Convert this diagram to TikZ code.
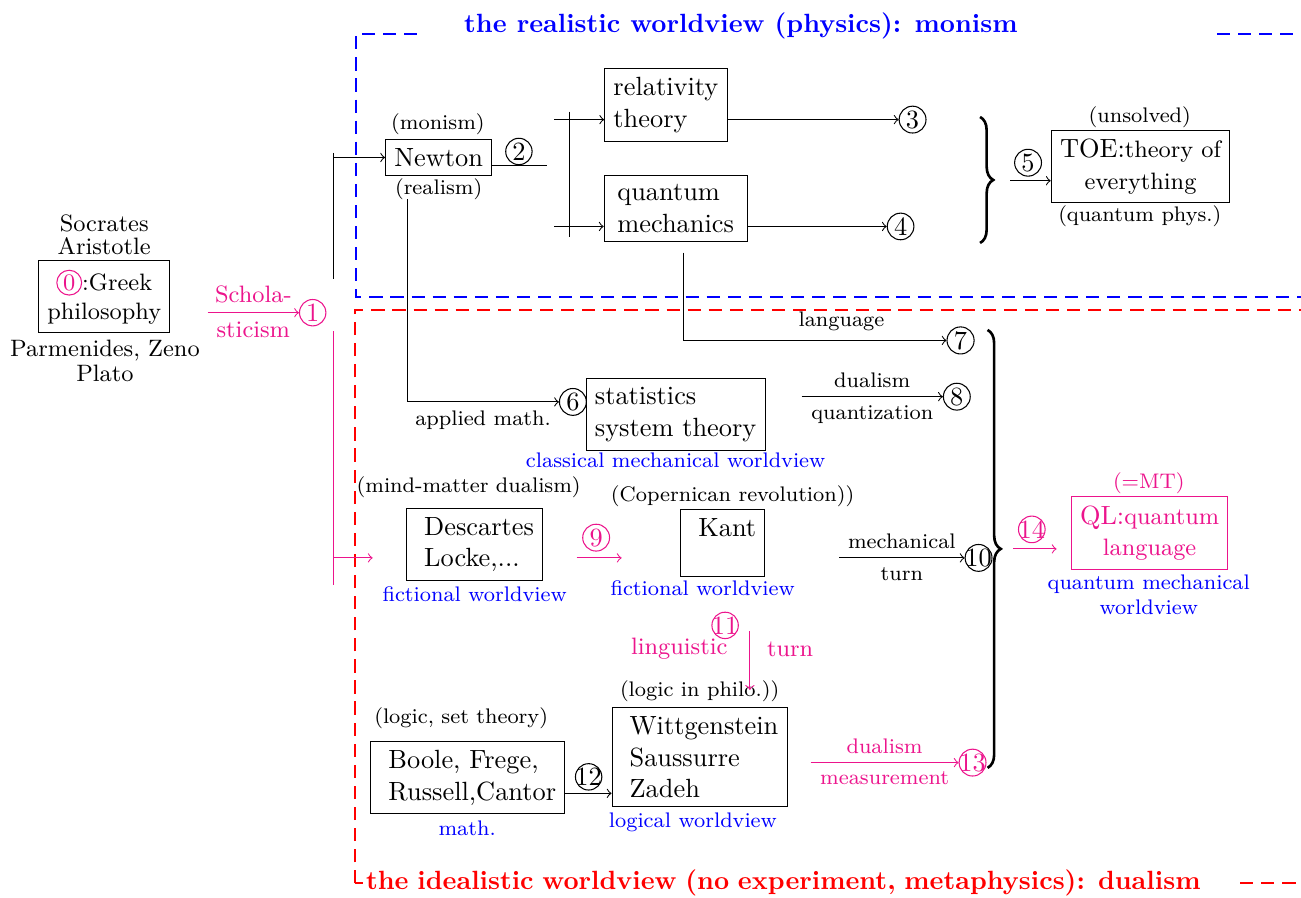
\documentclass[tikz,border=0pt]{standalone}
\usepackage{amsmath}
\usepackage{amssymb}
\usepackage{tikz}
\usetikzlibrary{arrows, decorations.pathreplacing}

\definecolor{qlpink}{RGB}{236,20,140}

\begin{document}
\begin{tikzpicture}

	\tikzstyle{box_node}=[rectangle, draw=black, align=left, inner sep=3.33pt]
	\tikzstyle{ql_node}=[rectangle, draw=qlpink, text=qlpink, align=center]
	\tikzstyle{num_node}=[circle, draw=black, inner sep=0.6pt]
	\tikzstyle{pink_num}=[circle, draw=qlpink, text=qlpink, inner sep=0.6pt]
	\tikzstyle{note_node}=[font=\footnotesize]
	\tikzstyle{view_node}=[font=\footnotesize, text=blue, align=center]
	\tikzstyle{edge_label}=[font=\footnotesize]
	\tikzstyle{pink_arrow}=[->, draw=qlpink, text=qlpink]
	\tikzstyle{realistic_frame}=[color=blue, line width=0.6pt, dash pattern=on 5pt off 3pt]
	\tikzstyle{idealistic_frame}=[color=red, thick, dash pattern=on 5pt off 3pt]
	\tikzstyle{big_brace}=[decorate, decoration={brace, amplitude=5pt}, line width=1pt]

	\useasboundingbox (0, 0) rectangle (17.35, 11.97);

	% Frames of the two worldviews
	\draw[realistic_frame] (5.56, 11.52) -- (4.75, 11.52) -- (4.75, 8.007) -- (17.35, 8.007);
	\draw[realistic_frame] (16.23, 11.52) -- (17.35, 11.52);
	\draw[idealistic_frame] (4.73, 0.19) -- (4.73, 7.84) -- (17.35, 7.84);
	\draw[idealistic_frame] (4.73, 0.19) -- (17.35, 0.19);
	\node[text=blue, font=\bfseries] at (9.88, 11.63) (realistic_title) {the realistic worldview (physics): monism};
	\node[text=red, font=\bfseries, fill=white, inner sep=1pt, anchor=west, text width=11.55cm, align=left] at (4.84, 0.19) (idealistic_title) {the idealistic worldview (no experiment, metaphysics): dualism};

	%Main nodes
	\node[align=center, font=\small] at (1.39, 8.84) (socrates) {Socrates\\[-2.5pt]Aristotle};
	\node[box_node, align=center, font=\small] at (1.39, 8.01) (greek) {\tikz[baseline=(zero.base)] \node[circle, draw=qlpink, text=qlpink, inner sep=0.6pt] (zero) {0};:Greek\\philosophy};
	\node[align=center, font=\small] at (1.40, 7.16) (parmenides) {Parmenides, Zeno\\[-1.5pt]Plato};
	\node[pink_num] at (4.17, 7.80) (n1) {1};

	\node[box_node] at (5.85, 9.87) (newton) {Newton};
	\node[note_node] at (5.84, 10.31) (monism) {(monism)};
	\node[note_node] at (5.85, 9.44) (realism) {(realism)};
	\node[num_node] at (6.92, 9.95) (n2) {2};
	\node[box_node] at (8.88, 10.57) (relativity) {relativity\\theory};
	\node[box_node, inner xsep=5pt] at (9.01, 9.19) (quantum) {quantum\\mechanics};
	\node[num_node] at (12.17, 10.375) (n3) {3};
	\node[num_node] at (12.01, 8.95) (n4) {4};
	\node[num_node] at (13.71, 9.80) (n5) {5};
	\node[box_node, align=center] at (15.21, 9.75) (toe) {TOE:{\small theory of}\\{\small everything}};
	\node[note_node] at (15.20, 10.41) (unsolved) {(unsolved)};
	\node[note_node] at (15.20, 9.08) (quantum_phys) {(quantum phys.)};

	\node[num_node] at (7.64, 6.61) (n6) {6};
	\node[box_node] at (9.01, 6.44) (statistics) {statistics\\system theory};
	\node[view_node] at (9.01, 5.83) (classical_view) {classical mechanical worldview};
	\node[num_node] at (12.81, 7.43) (n7) {7};
	\node[num_node] at (12.76, 6.68) (n8) {8};

	\node[box_node] at (6.33, 4.71) (descartes) {\ Descartes\\\ Locke,...};
	\node[note_node] at (6.25, 5.47) (mind_matter) {(mind-matter dualism)};
	\node[view_node] at (6.33, 4.04) (fictional_view_a) {fictional worldview};
	\node[pink_num] at (7.95, 4.80) (n9) {9};
	\node[box_node] at (9.64, 4.73) (kant) {\ Kant\\\mbox{}};
	\node[note_node] at (9.77, 5.35) (copernican) {(Copernican revolution))};
	\node[view_node] at (9.37, 4.13) (fictional_view_b) {fictional worldview};
	\node[num_node] at (13.05, 4.53) (n10) {\makebox[5pt]{10}};
	\node[pink_num] at (9.67, 3.63) (n11) {\makebox[5pt]{11}};

	\node[box_node] at (6.24, 1.60) (boole) {\ Boole, Frege,\\\ Russell,Cantor};
	\node[note_node] at (6.15, 2.39) (set_theory) {(logic, set theory)};
	\node[view_node] at (6.23, 0.93) (math_view) {math.};
	\node[num_node] at (7.85, 1.61) (n12) {\makebox[5pt]{12}};
	\node[box_node] at (9.33, 1.87) (wittgenstein) {\ Wittgenstein\\\ Saussurre\\\ Zadeh};
	\node[note_node] at (9.33, 2.75) (logic_philo) {(logic in philo.))};
	\node[view_node] at (9.24, 1.00) (logical_view) {logical worldview};
	\node[pink_num] at (12.97, 1.80) (n13) {\makebox[5pt]{13}};

	\node[pink_num] at (13.76, 4.91) (n14) {\makebox[5pt]{14}};
	\node[ql_node] at (15.33, 4.86) (ql) {QL:{\small quantum}\\{\small language}};
	\node[text=qlpink, font=\footnotesize] at (15.32, 5.53) (mt) {(=MT)};
	\node[view_node] at (15.32, 4.04) (qm_view) {quantum mechanical\\worldview};

	% Reference points
	\coordinate (greek_out) at (2.77, 7.80);
	\coordinate (phys_top) at (4.45, 9.93);
	\coordinate (phys_bottom) at (4.45, 8.25);
	\coordinate (newton_feed) at (4.45, 9.87);
	\coordinate (phil_top) at (4.45, 7.55);
	\coordinate (phil_bottom) at (4.45, 4.17);
	\coordinate (phil_feed) at (4.45, 4.53);
	\coordinate (phil_in) at (4.97, 4.53);
	\coordinate (newton_out) at (7.29, 9.76);
	\coordinate (fork_top) at (7.60, 10.48);
	\coordinate (fork_bottom) at (7.60, 8.81);
	\coordinate (relativity_feed) at (7.39, 10.375);
	\coordinate (quantum_feed) at (7.39, 8.95);
	\coordinate (brace_top) at (13.07, 10.41);
	\coordinate (brace_bottom) at (13.07, 8.73);
	\coordinate (toe_feed) at (13.47, 9.56);
	\coordinate (realism_down) at (5.43, 9.31);
	\coordinate (quantum_down) at (9.12, 8.60);
	\coordinate (dualism_start) at (10.69, 6.68);
	\coordinate (nine_start) at (7.69, 4.53);
	\coordinate (nine_end) at (8.29, 4.53);
	\coordinate (mechanical_start) at (11.19, 4.53);
	\coordinate (linguistic_top) at (10.00, 3.55);
	\coordinate (linguistic_end) at (10.00, 2.77);
	\coordinate (logic_link) at (7.85, 1.39);
	\coordinate (measurement_start) at (10.81, 1.80);
	\coordinate (big_brace_top) at (13.17, 7.57);
	\coordinate (big_brace_bottom) at (13.17, 1.73);
	\coordinate (fourteen_start) at (13.51, 4.65);
	\coordinate (fourteen_end) at (14.09, 4.65);

	% Connections
	\draw[pink_arrow] (greek_out) -- node[above, font=\small] {Schola-} node[below, font=\small] {sticism} (n1);
	\draw[] (phys_top) -- (phys_bottom);
	\draw[->] (newton_feed) -- (newton);
	\draw[draw=qlpink] (phil_top) -- (phil_bottom);
	\draw[pink_arrow] (phil_feed) -- (phil_in);

	\draw[] (newton.east |- newton_out) -- (newton_out);
	\draw[] (fork_top) -- (fork_bottom);
	\draw[->] (relativity_feed) -- (relativity.west |- relativity_feed);
	\draw[->] (quantum_feed) -- (quantum.west |- quantum_feed);
	\draw[->] (relativity.east |- n3) -- (n3);
	\draw[->] (quantum.east |- n4) -- (n4);
	\draw[big_brace] (brace_top) -- (brace_bottom);
	\draw[->] (toe_feed) -- (toe.west |- toe_feed);

	\draw[->] (realism_down) |- node[pos=0.75, below, edge_label] {applied math.} (n6);
	\draw[->] (quantum_down) |- node[pos=0.8, above, edge_label] {language} (n7);
	\draw[->] (dualism_start) -- node[above, edge_label] {dualism} node[below, edge_label] {quantization} (n8);

	\draw[pink_arrow] (nine_start) -- (nine_end);
	\draw[->] (mechanical_start) -- node[above, edge_label] {mechanical} node[below, edge_label] {turn} (n10);
	\draw[pink_arrow] (linguistic_top) -- node[pos=0.3, left=5pt, font=\small] {linguistic} node[pos=0.3, right=3pt, font=\small] {turn} (linguistic_end);

	\draw[->] (boole.east |- logic_link) -- (wittgenstein.west |- logic_link);
	\draw[pink_arrow] (measurement_start) -- node[above, font=\footnotesize] {dualism} node[below, font=\footnotesize] {measurement} (n13);
	\draw[big_brace] (big_brace_top) -- (big_brace_bottom);
	\draw[pink_arrow] (fourteen_start) -- (fourteen_end);

\end{tikzpicture}
\end{document}
